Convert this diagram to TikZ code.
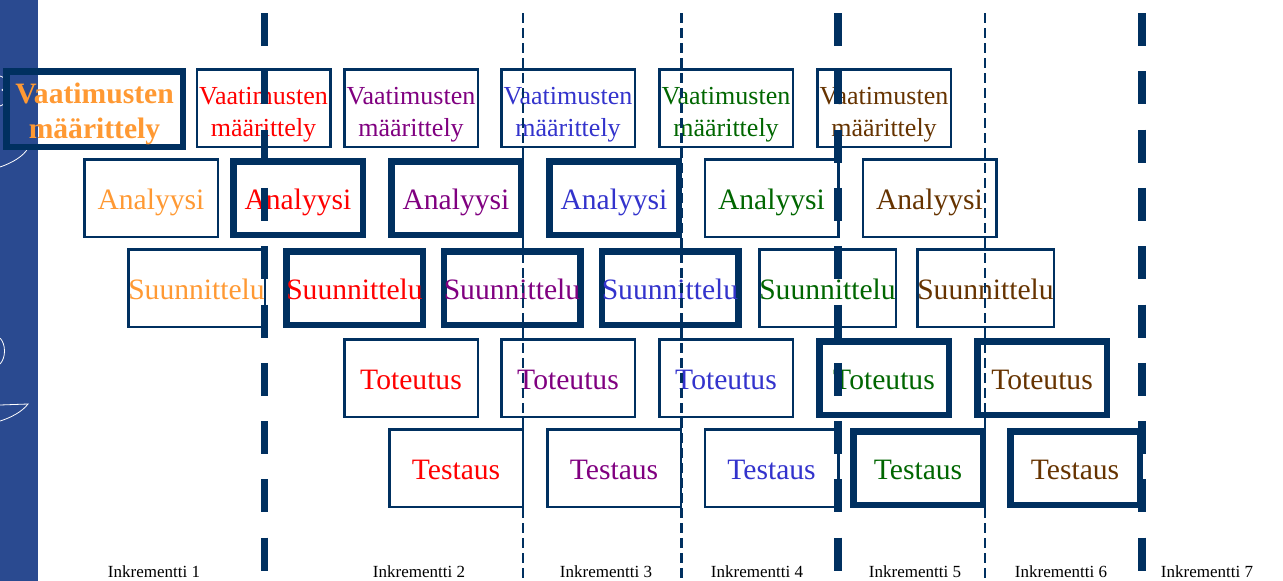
\documentclass[tikz,border=0pt]{standalone}
\usepackage{fontspec}
\setmainfont{Liberation Serif}
\usetikzlibrary{positioning}
\definecolor{navy}{RGB}{0,48,96}
\definecolor{strip}{RGB}{42,74,144}
\definecolor{incone}{RGB}{255,153,51}
\definecolor{inctwo}{RGB}{255,0,0}
\definecolor{incthree}{RGB}{128,0,128}
\definecolor{incfour}{RGB}{51,51,204}
\definecolor{incfive}{RGB}{0,102,0}
\definecolor{incsix}{RGB}{102,51,0}

\begin{document}
\begin{tikzpicture}[x=1pt,y=-1pt,
    phase/.style={draw=navy,line width=2.5pt,minimum width=133.5pt,minimum height=77.5pt,
      inner sep=0pt,text height=22pt,text depth=0pt,font=\fontsize{29.6}{32}\selectfont},
    phasebold/.style={phase,line width=6.5pt,minimum width=129.5pt,minimum height=73.5pt},
    req/.style={font=\fontsize{26}{32}\selectfont,align=center,text height=56pt,text depth=0pt},
    bigsep/.style={navy,line width=7.5pt,dash pattern=on 33pt off 25.3pt},
    smallsep/.style={navy,line width=2.6pt,dash pattern=on 10pt off 5pt},
    inclabel/.style={font=\fontsize{17}{20}\selectfont}]
        \useasboundingbox (0,0) rectangle (1283,581);

        % sininen reunapalkki
        \fill[strip] (0,0) rectangle (38,581);
        \draw[white,line width=0.8pt] (0,167) .. controls (12,163) and (24,156) .. (28,148);
        \draw[white,line width=0.8pt] (0,405) -- (28,404) .. controls (22,412) and (10,418) .. (0,421);
        \draw[white,line width=0.8pt] (0,338) .. controls (6,344) and (6,358) .. (0,364);
        \draw[white,line width=0.8pt] (0,76) .. controls (8,78) and (8,88) .. (2,90) .. controls (8,92) and (8,104) .. (0,106);

        % vaatimusten maarittely
        \node[phasebold,req,minimum width=176.5pt,minimum height=75.5pt,text=incone,
          font=\fontsize{29.6}{35}\selectfont\bfseries,text height=58.6pt] (v1) at (94.5,109) {Vaatimusten\\määrittely};
        \node[phase,req,text=inctwo] (v2) at (263.5,108) {Vaatimusten\\määrittely};
        \node[phase,req,text=incthree] (v3) at (411,108) {Vaatimusten\\määrittely};
        \node[phase,req,text=incfour] (v4) at (568,108) {Vaatimusten\\määrittely};
        \node[phase,req,text=incfive] (v5) at (726,108) {Vaatimusten\\määrittely};
        \node[phase,req,text=incsix] (v6) at (884,108) {Vaatimusten\\määrittely};

        % analyysi
        \node[phase,text=incone] (a1) at (151,198) {Analyysi};
        \node[phasebold,text=inctwo] (a2) at (298,198) {Analyysi};
        \node[phasebold,text=incthree] (a3) at (456,198) {Analyysi};
        \node[phasebold,text=incfour] (a4) at (614,198) {Analyysi};
        \node[phase,text=incfive] (a5) at (771.5,198) {Analyysi};
        \node[phase,text=incsix] (a6) at (929.5,198) {Analyysi};

        % suunnittelu
        \node[phase,text=incone] (s1) at (196.5,288) {Suunnittelu};
        \node[phasebold,text=inctwo] (s2) at (354.5,288) {Suunnittelu};
        \node[phasebold,text=incthree] (s3) at (512,288) {Suunnittelu};
        \node[phasebold,text=incfour] (s4) at (670,288) {Suunnittelu};
        \node[phase,text=incfive] (s5) at (827.5,288) {Suunnittelu};
        \node[phase,text=incsix] (s6) at (985.5,288) {Suunnittelu};

        % toteutus
        \node[phase,text=inctwo] (t2) at (411,378) {Toteutus};
        \node[phase,text=incthree] (t3) at (568,378) {Toteutus};
        \node[phase,text=incfour] (t4) at (726,378) {Toteutus};
        \node[phasebold,text=incfive] (t5) at (884,378) {Toteutus};
        \node[phasebold,text=incsix] (t6) at (1042,378) {Toteutus};

        % testaus
        \node[phase,text=inctwo] (te2) at (456,468) {Testaus};
        \node[phase,text=incthree] (te3) at (614,468) {Testaus};
        \node[phase,text=incfour] (te4) at (771.5,468) {Testaus};
        \node[phasebold,text=incfive] (te5) at (918,468) {Testaus};
        \node[phasebold,text=incsix] (te6) at (1075,468) {Testaus};

        % inkrementtien rajat
        \foreach \x in {264.5,838,1142}
          \draw[bigsep] (\x,13) -- (\x,581);
        \foreach \x in {523,681.5,985}
          \draw[smallsep] (\x,13) -- (\x,581);

        \node[inclabel] (i1) at (154,572) {Inkrementti 1};
        \node[inclabel] (i2) at (419,572) {Inkrementti 2};
        \node[inclabel] (i3) at (606,572) {Inkrementti 3};
        \node[inclabel] (i4) at (757,572) {Inkrementti 4};
        \node[inclabel] (i5) at (915,572) {Inkrementti 5};
        \node[inclabel] (i6) at (1061,572) {Inkrementti 6};
        \node[inclabel] (i7) at (1207,572) {Inkrementti 7};
      \end{tikzpicture}
\end{document}
